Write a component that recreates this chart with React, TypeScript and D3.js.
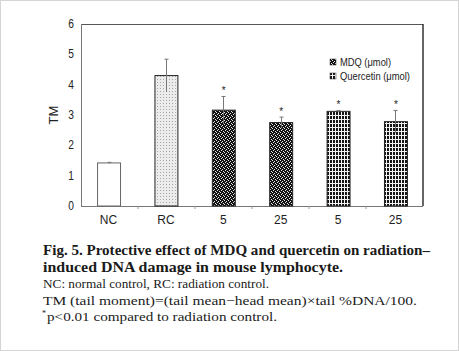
import React, { useEffect, useRef } from 'react';
import * as d3 from 'd3';

// chart values
const categories = ['NC', 'RC', '5', '25', '5', '25'];
const groups = ['nc', 'rc', 'mdq', 'mdq', 'que', 'que'];
const means = [1.42, 4.3, 3.16, 2.75, 3.12, 2.78];
const errors = [0.02, 0.54, 0.45, 0.18, 0.03, 0.37];
const marked = [false, false, true, true, true, true];
const yTicks = [0, 1, 2, 3, 4, 5, 6];
const legendItems = [
  { key: 'mdq', label: 'MDQ (μmol)' },
  { key: 'que', label: 'Quercetin (μmol)' },
];
const captionLines = [
  { text: 'Fig. 5. Protective effect of MDQ and quercetin on radiation–', bold: true, width: 387 },
  { text: 'induced DNA damage in mouse lymphocyte.', bold: true, width: 300 },
  { text: 'NC: normal control, RC: radiation control.', bold: false, width: 226 },
  { text: 'TM (tail moment)=(tail mean−head mean)×tail %DNA/100.', bold: false, width: 374 },
  { text: 'p<0.01 compared to radiation control.', bold: false, width: 230, star: true },
];

const App = () => {
  const svgRef = useRef<SVGSVGElement>(null);

  useEffect(() => {
    const svg = d3.select(svgRef.current);
    svg.selectAll('*').remove();

    const W = 459;
    const H = 351;
    const left = 81, right = 423, top = 24, bottom = 206;

    svg.attr('width', W).attr('height', H);

    // page background and border
    svg.append('rect').attr('x', 0.5).attr('y', 0.5).attr('width', W - 1).attr('height', H - 1)
      .attr('fill', '#fff').attr('stroke', '#d4d4d4');

    // fill patterns
    const defs = svg.append('defs');
    const rc = defs.append('pattern').attr('id', 'p-rc').attr('patternUnits', 'userSpaceOnUse')
      .attr('width', 3).attr('height', 3);
    rc.append('rect').attr('width', 3).attr('height', 3).attr('fill', '#ececec');
    rc.append('rect').attr('x', 1).attr('y', 1).attr('width', 1).attr('height', 1).attr('fill', '#a8a8a8');

    const mdq = defs.append('pattern').attr('id', 'p-mdq').attr('patternUnits', 'userSpaceOnUse')
      .attr('width', 4).attr('height', 4);
    mdq.append('rect').attr('width', 4).attr('height', 4).attr('fill', '#111');
    [[0, 0], [2, 1], [1, 2], [3, 3]].forEach(([px, py]) => {
      mdq.append('rect').attr('x', px).attr('y', py).attr('width', 1).attr('height', 1).attr('fill', '#e8e8e8');
    });

    const que = defs.append('pattern').attr('id', 'p-que').attr('patternUnits', 'userSpaceOnUse')
      .attr('width', 3).attr('height', 4);
    que.append('rect').attr('width', 3).attr('height', 4).attr('fill', '#f4f4f4');
    que.append('rect').attr('width', 2).attr('height', 3).attr('fill', '#151515');

    const fills: Record<string, string> = { nc: '#fff', rc: 'url(#p-rc)', mdq: 'url(#p-mdq)', que: 'url(#p-que)' };

    const x = d3.scaleBand<number>()
      .domain(categories.map((_, i) => i))
      .range([left, right])
      .paddingInner(0.6)
      .paddingOuter(0.28);
    const step = (right - left) / categories.length;
    const y = d3.scaleLinear().domain([0, 6]).range([bottom, top]);

    // frame
    svg.append('line').attr('x1', left).attr('x2', right).attr('y1', top + 0.5).attr('y2', top + 0.5)
      .attr('stroke', '#555');
    svg.append('line').attr('x1', right).attr('x2', right).attr('y1', top).attr('y2', bottom)
      .attr('stroke', '#333').attr('stroke-width', 1.5);
    svg.append('line').attr('x1', left + 0.5).attr('x2', left + 0.5).attr('y1', top).attr('y2', bottom)
      .attr('stroke', '#777');
    svg.append('line').attr('x1', left).attr('x2', right).attr('y1', bottom + 0.5).attr('y2', bottom + 0.5)
      .attr('stroke', '#777');
    d3.range(1, categories.length).forEach(i => {
      svg.append('line').attr('x1', left + i * step).attr('x2', left + i * step)
        .attr('y1', bottom).attr('y2', bottom + 3).attr('stroke', '#999');
    });

    // y tick labels
    svg.append('g').selectAll('text').data(yTicks).enter().append('text')
      .attr('x', 74).attr('y', d => y(d) + 4)
      .attr('text-anchor', 'end')
      .attr('font-family', 'Liberation Sans, Arial, sans-serif')
      .attr('font-size', 12)
      .attr('transform', d => `translate(74,${y(d) + 4}) scale(0.85,1) translate(-74,${-(y(d) + 4)})`)
      .attr('fill', '#222')
      .text(d => d);

    // y axis title
    svg.append('text')
      .attr('transform', 'translate(58,115) rotate(-90)')
      .attr('text-anchor', 'middle')
      .attr('font-family', 'Liberation Sans, Arial, sans-serif')
      .attr('font-size', 13)
      .attr('fill', '#222')
      .text('TM');

    // x labels
    svg.append('g').selectAll('text').data(categories).enter().append('text')
      .attr('x', (_, i) => (x(i) as number) + x.bandwidth() / 2)
      .attr('y', 224)
      .attr('text-anchor', 'middle')
      .attr('font-family', 'Liberation Sans, Arial, sans-serif')
      .attr('font-size', 12)
      .attr('fill', '#222')
      .text(d => d);

    // bars
    svg.append('g').selectAll('rect').data(means).enter().append('rect')
      .attr('x', (_, i) => (x(i) as number) + 0.5)
      .attr('y', d => y(d))
      .attr('width', x.bandwidth())
      .attr('height', d => bottom - y(d))
      .attr('fill', (_, i) => fills[groups[i]])
      .attr('stroke', (_, i) => (groups[i] === 'nc' ? '#666' : '#222'))
      .attr('stroke-width', 1);

    // error bars
    const eb = svg.append('g').attr('stroke', '#777').attr('stroke-width', 1);
    means.forEach((m, i) => {
      const cx = Math.round((x(i) as number) + x.bandwidth() / 2) + 0.5;
      eb.append('line').attr('x1', cx).attr('x2', cx).attr('y1', y(m - errors[i])).attr('y2', y(m + errors[i]));
      eb.append('line').attr('x1', cx - 2).attr('x2', cx + 2).attr('y1', y(m + errors[i])).attr('y2', y(m + errors[i]));
    });

    // significance marks
    svg.append('g').selectAll('text').data(means.map((m, i) => ({ m, i })).filter(d => marked[d.i])).enter()
      .append('text')
      .attr('x', d => (x(d.i) as number) + x.bandwidth() / 2 + 0.5)
      .attr('y', d => y(d.m + errors[d.i]) - 2)
      .attr('text-anchor', 'middle')
      .attr('font-family', 'Liberation Sans, Arial, sans-serif')
      .attr('font-size', 10)
      .attr('fill', '#222')
      .text('*');

    // legend
    const lg = svg.append('g');
    legendItems.forEach((d, i) => {
      const ly = 62 + i * 14;
      lg.append('rect').attr('x', 330).attr('y', ly - 3).attr('width', 6).attr('height', 6)
        .attr('fill', fills[d.key]).attr('stroke', '#333').attr('stroke-width', 0.5);
      lg.append('text').attr('x', 340).attr('y', ly + 4)
        .attr('font-family', 'Liberation Sans, Arial, sans-serif')
        .attr('font-size', 11)
        .attr('fill', '#222')
        .attr('textLength', i === 0 ? 51 : 70)
        .attr('lengthAdjust', 'spacingAndGlyphs')
        .text(d.label);
    });

    // caption
    captionLines.forEach((line, i) => {
      const yy = 255 + i * 16.5;
      if (line.star) {
        svg.append('text')
          .attr('x', 42).attr('y', yy - 5)
          .attr('font-family', 'Liberation Serif, DejaVu Serif, serif')
          .attr('font-size', 8)
          .attr('fill', '#1a1a1a')
          .text('*');
      }
      svg.append('text')
        .attr('x', line.star ? 47 : 43)
        .attr('y', yy)
        .attr('font-family', 'Liberation Serif, DejaVu Serif, serif')
        .attr('font-size', line.bold ? 14 : 13)
        .attr('font-weight', line.bold ? 'bold' : 'normal')
        .attr('fill', '#1a1a1a')
        .attr('textLength', line.width)
        .attr('lengthAdjust', 'spacingAndGlyphs')
        .text(line.text);
    });
  }, []);

  return (
    <div style={{ position: 'absolute', left: 0, top: 0 }}>
      <svg ref={svgRef} style={{ display: 'block' }}></svg>
    </div>
  );
};

export default App;
